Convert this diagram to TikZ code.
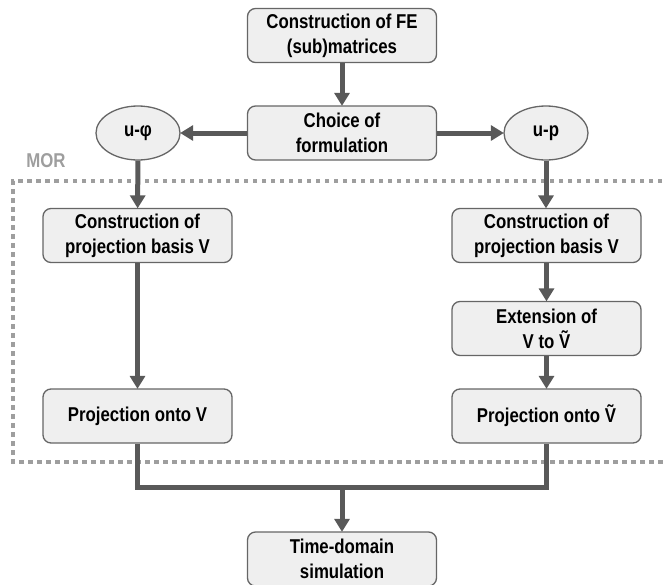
\documentclass[tikz,border=0pt]{standalone}
\usepackage{fontspec}
\setmainfont{Liberation Sans}[FakeStretch=0.84]
\usetikzlibrary{arrows.meta,shapes.geometric}
\definecolor{linegray}{HTML}{595959}
\definecolor{boxfill}{HTML}{EFEFEF}
\definecolor{boxdraw}{HTML}{666666}
\definecolor{dashgray}{HTML}{9E9E9E}
\tikzset{
  stepbox/.style={draw=boxdraw, fill=boxfill, line width=1.3pt, rounded corners=8pt,
    minimum width=189pt, minimum height=54pt, align=center, inner sep=0pt,
    font=\fontsize{20}{25}\selectfont\bfseries},
  oval/.style={ellipse, draw=boxdraw, fill=boxfill, line width=1.3pt,
    minimum width=84pt, minimum height=54pt, inner sep=0pt,
    font=\fontsize{20}{25}\selectfont\bfseries},
  conn/.style={draw=linegray, line width=5pt},
  arr/.style={conn, -{Triangle[length=13pt,width=15pt]}, shorten >=-0.5pt},
  morbox/.style={draw=dashgray, line width=4pt, dash pattern=on 4.5pt off 4.5pt},
}
\begin{document}
\begin{tikzpicture}[x=1pt,y=-1pt]
\useasboundingbox (0,0) rectangle (667,584);
% MOR region
\draw[morbox] (680,181) -- (13,181) -- (13,462) -- (680,462);
\node[text=dashgray, font=\fontsize{20}{22}\selectfont\bfseries] (mor) at (46,161) {MOR};
% nodes
\node[stepbox] (fe) at (342,35.5) {Construction of FE\\(sub)matrices};
\node[stepbox] (choice) at (342,133) {Choice of\\formulation};
\node[oval] (uphi) at (138,133) {u-φ};
\node[oval] (up) at (546,133) {u-p};
\node[stepbox] (lbasis) at (137.5,235.5) {Construction of\\projection basis V};
\node[stepbox] (rbasis) at (546.5,235.5) {Construction of\\projection basis V};
\node[stepbox] (ext) at (546.5,328.5) {Extension of\\V to Ṽ};
\node[stepbox] (lproj) at (137.5,416) {Projection onto V};
\node[stepbox] (rproj) at (546.5,416) {Projection onto Ṽ};
\node[stepbox] (time) at (342,559) {Time-domain\\simulation};
\coordinate (join) at (342,487);
% connectors
\draw[arr] (fe) -- (choice);
\draw[arr] (choice) -- (uphi);
\draw[arr] (choice) -- (up);
\draw[arr] (uphi) -- (lbasis);
\draw[arr] (up.south) -- (up.south |- rbasis.north);
\draw[arr] (lbasis) -- (lproj);
\draw[arr] (rbasis) -- (ext);
\draw[arr] (ext) -- (rproj);
\draw[conn] (lproj.south) |- (join) -| (rproj.south);
\draw[arr] (join) -- (time);
\end{tikzpicture}
\end{document}
